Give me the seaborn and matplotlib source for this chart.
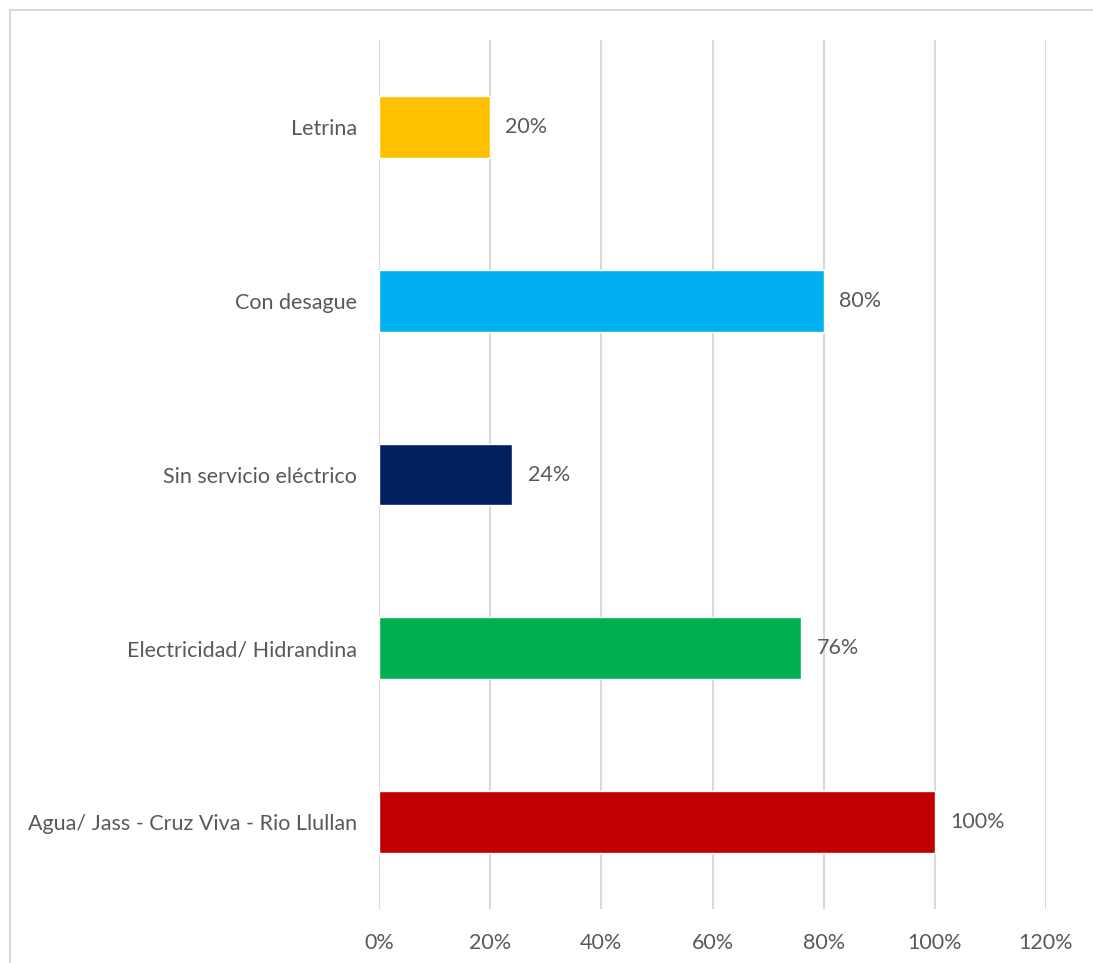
import numpy as np
import pandas as pd
import matplotlib
matplotlib.use("Agg")
import matplotlib.pyplot as plt
import seaborn as sns
from matplotlib.lines import Line2D

# ── Data ───────────────────────────────────────────────────────
CATEGORIES = [
    "Letrina",
    "Con desague",
    "Sin servicio eléctrico",
    "Electricidad/ Hidrandina",
    "Agua/ Jass - Cruz Viva - Rio Llullan",
]
VALUES = [20, 80, 24, 76, 100]
COLORS = ["#FFC000", "#00B0F0", "#002060", "#00B050", "#C00000"]
XTICKS = [0, 20, 40, 60, 80, 100, 120]

TEXT = "#595959"
GRID = "#D9D9D9"

sns.set_theme(style="white")
plt.rcParams["font.family"] = ["Lato", "DejaVu Sans"]

df = pd.DataFrame({"cat": CATEGORIES, "val": VALUES})

fig = plt.figure(figsize=(10.93, 9.63), dpi=100)
ax = fig.add_axes([379 / 1093, 1 - 909 / 963, 667 / 1093, 869 / 963])

sns.barplot(data=df, y="cat", x="val", hue="cat", palette=COLORS,
            order=CATEGORIES, hue_order=CATEGORIES, legend=False,
            width=0.356, saturation=1, ax=ax, zorder=3)

ax.set_xlim(0, 120)
ax.set_ylim(len(CATEGORIES) - 0.5, -0.5)
ax.set_xticks(XTICKS)
ax.set_xticklabels([f"{t}%" for t in XTICKS])
for t in XTICKS:
    ax.axvline(t, color=GRID, linewidth=1.5, zorder=1)

for i, v in enumerate(VALUES):
    ax.annotate(f"{v}%", xy=(v, i), xytext=(11, 0), textcoords="offset points",
                ha="left", va="center", fontsize=15.5, color=TEXT)

ax.set_xlabel("")
ax.set_ylabel("")
ax.tick_params(axis="x", length=0, pad=17, labelsize=15.5, labelcolor=TEXT)
ax.tick_params(axis="y", length=0, pad=16, labelsize=15.5, labelcolor=TEXT)
for s in ax.spines.values():
    s.set_visible(False)

# chart border (top and left edges visible in the reference)
fig.add_artist(Line2D([10 / 1093, 1], [1 - 10 / 963, 1 - 10 / 963],
                      transform=fig.transFigure, color=GRID, linewidth=1.5))
fig.add_artist(Line2D([10 / 1093, 10 / 1093], [0, 1 - 10 / 963],
                      transform=fig.transFigure, color=GRID, linewidth=1.5))

fig.savefig("out.png", dpi=100)
